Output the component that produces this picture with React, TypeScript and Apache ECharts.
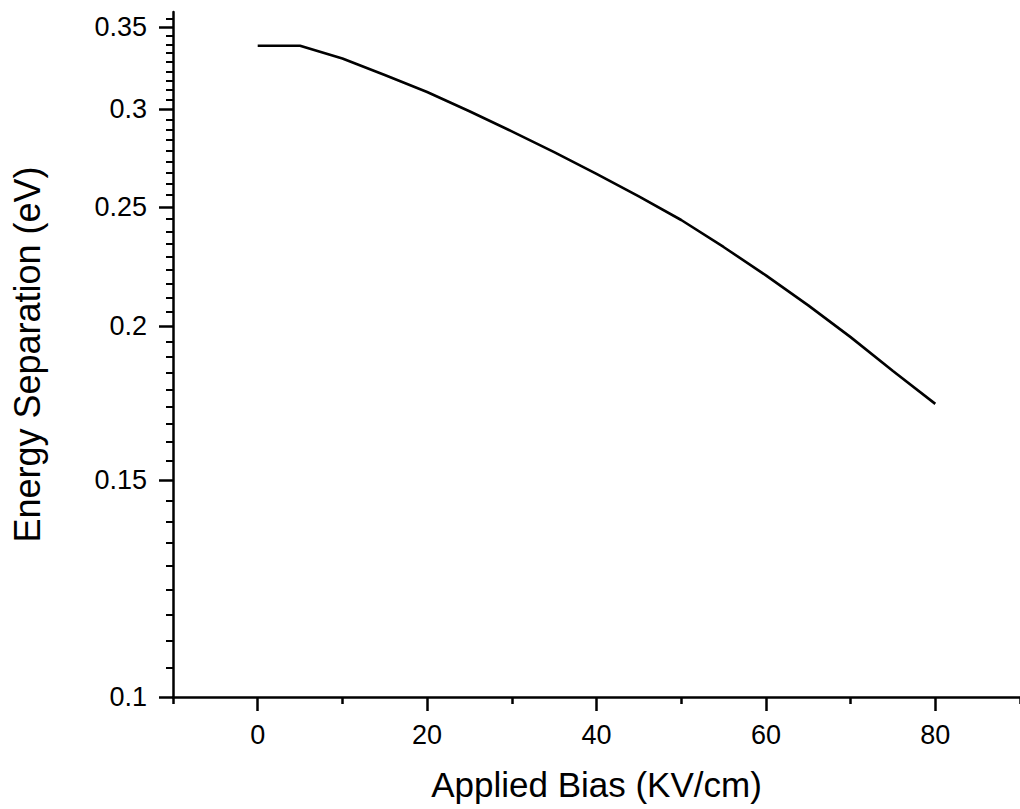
import React, { useEffect, useRef } from "react";
import * as echarts from "echarts";

const biasKVcm = [0, 5, 10, 15, 20, 25, 30, 35, 40, 45, 50, 55, 60, 65, 70, 75, 80];
const energySepEV = [0.338, 0.338, 0.330, 0.320, 0.310, 0.299, 0.288, 0.277, 0.266, 0.255, 0.244, 0.232, 0.220, 0.208, 0.196, 0.184, 0.173];

const xMajorTicks = [0, 20, 40, 60, 80];
const xMinorTicks = [-10, 10, 30, 50, 70, 90];
const yMajorTicks = [0.1, 0.15, 0.2, 0.25, 0.3, 0.35];

const yMinorTicks: number[] = [];
for (let i = 0; i < yMajorTicks.length; i++) {
  const a = yMajorTicks[i];
  const step = 0.05 / 9;
  for (let k = 1; k <= 8; k++) {
    const v = a + k * step;
    if (v < 0.36) yMinorTicks.push(+v.toFixed(6));
  }
}

const FONT = "Liberation Sans";

export default function App() {
  const ref = useRef<HTMLDivElement>(null);
  useEffect(() => {
    const chart = echarts.init(ref.current!, null, { renderer: "svg" });
    const axisLine = { show: true, onZero: false, lineStyle: { color: "#000", width: 2.5 } };
    chart.setOption({
      animation: false,
      backgroundColor: "#fff",
      grid: { left: 173, right: -4, top: 12, bottom: 112, containLabel: false },
      xAxis: [
        {
          type: "value",
          min: -10,
          max: 90,
          position: "bottom",
          name: "Applied Bias (KV/cm)",
          nameLocation: "middle",
          nameGap: 70,
          nameTextStyle: { fontFamily: FONT, fontSize: 35, color: "#000" },
          axisLine,
          axisTick: { show: true, inside: false, length: 14, lineStyle: { color: "#000", width: 2.5 }, customValues: xMajorTicks },
          axisLabel: { show: true, margin: 24, fontFamily: FONT, fontSize: 27, color: "#000", customValues: xMajorTicks },
          splitLine: { show: false },
        },
        {
          type: "value",
          min: -10,
          max: 90,
          position: "bottom",
          axisLine: { show: false, onZero: false },
          axisTick: { show: true, inside: false, length: 7, lineStyle: { color: "#000", width: 2.5 }, customValues: xMinorTicks },
          axisLabel: { show: false },
          splitLine: { show: false },
        },
      ],
      yAxis: [
        {
          type: "log",
          logBase: 10,
          min: 0.1,
          max: 0.36,
          position: "left",
          name: "Energy Separation (eV)",
          nameLocation: "middle",
          nameRotate: 90,
          nameGap: 128,
          nameTextStyle: { fontFamily: FONT, fontSize: 36, color: "#000" },
          axisLine,
          axisTick: { show: true, inside: false, length: 14, lineStyle: { color: "#000", width: 2.5 }, customValues: yMajorTicks },
          axisLabel: {
            show: true,
            margin: 26,
            fontFamily: FONT,
            fontSize: 27,
            color: "#000",
            customValues: yMajorTicks,
            formatter: (v: number) => String(+(+v).toFixed(3)),
          },
          splitLine: { show: false },
        },
        {
          type: "log",
          logBase: 10,
          min: 0.1,
          max: 0.36,
          position: "left",
          axisLine: { show: false, onZero: false },
          axisTick: { show: true, inside: false, length: 7, lineStyle: { color: "#000", width: 2 }, customValues: yMinorTicks },
          axisLabel: { show: false },
          splitLine: { show: false },
        },
      ],
      series: [
        {
          type: "line",
          xAxisIndex: 0,
          yAxisIndex: 0,
          data: biasKVcm.map((x, i) => [x, energySepEV[i]]),
          showSymbol: false,
          symbol: "none",
          lineStyle: { color: "#000", width: 2.6 },
          itemStyle: { color: "#000" },
        },
      ],
    });
    return () => chart.dispose();
  }, []);
  return <div ref={ref} style={{ position: "absolute", left: 0, top: 0, width: 1020, height: 809 }} />;
}
